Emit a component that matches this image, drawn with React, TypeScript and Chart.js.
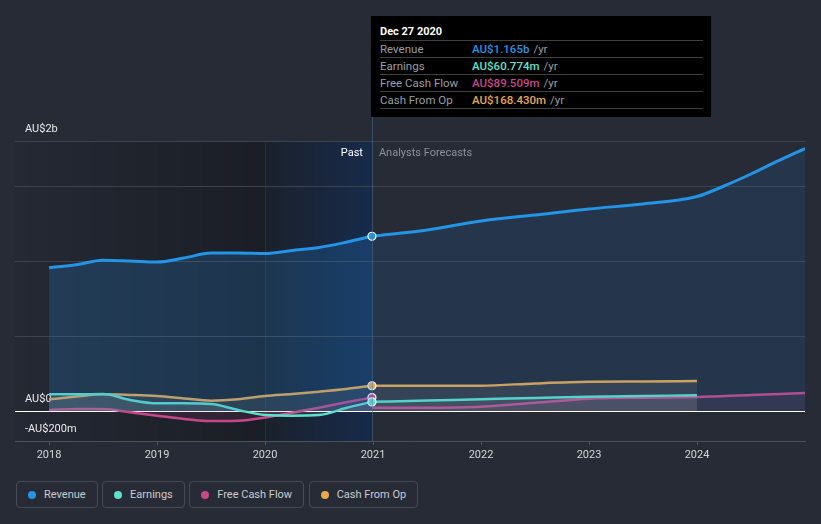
import React, { useEffect, useRef } from 'react';
import { Chart, registerables } from 'chart.js';

Chart.register(...registerables);

// ---------- data (values in AU$ millions, x in decimal years) ----------
const NOW = 2020.99;
const pastYears = [2018, 2018.25, 2018.5, 2018.75, 2019, 2019.25, 2019.5, 2019.75, 2020, 2020.25, 2020.5, 2020.75, 2020.99];
const revenuePast = [955, 975, 1005, 1000, 993, 1020, 1053, 1053, 1050, 1070, 1090, 1125, 1165];
const earningsPast = [111, 111, 113, 73, 51, 51, 47, 7, -27, -31, -27, 20, 60.774];
const fcfPast = [7, 13, 13, -9, -31, -53, -67, -65, -44, -11, 22, 58, 89.509];
const cfoPast = [78, 96, 111, 107, 100, 84, 69, 78, 100, 113, 129, 147, 168.43];

const revenueForecastYears = [2020.99, 2021.5, 2022, 2022.5, 2023, 2023.5, 2024, 2024.25, 2024.5, 2024.75, 2025];
const revenueForecast = [1165, 1207, 1267, 1307, 1347, 1380, 1430, 1500, 1580, 1667, 1750];
const forecastYears = [2020.99, 2021.5, 2022, 2022.5, 2023, 2023.5, 2024];
const earningsForecast = [61, 70, 78, 87, 95, 100, 105];
const cfoForecast = [168, 168, 169, 184, 195, 197, 200];
const fcfForecastYears = [2020.99, 2021.5, 2022, 2022.5, 2023, 2023.5, 2024, 2024.5, 2025];
const fcfForecast = [22, 22, 29, 55, 82, 89, 93, 107, 120];

const xTicks = [2018, 2019, 2020, 2021, 2022, 2023, 2024];
const yTicks = [-200, 0, 500, 1000, 1500, 1800];
const yTickLabels = ['-AU$200m', 'AU$0', '', '', '', 'AU$2b'];

const seriesNames = ['Revenue', 'Earnings', 'Free Cash Flow', 'Cash From Op'];
const tooltipTitle = 'Dec 27 2020';
const tooltipValues = ['AU$1.165b', 'AU$60.774m', 'AU$89.509m', 'AU$168.430m'];

// ---------- styles ----------
const BG = '#262b36';
const COLORS = ['#2394e6', '#5fe0cc', '#c8478a', '#e8a850'];
const FONT = 'Roboto, "Open Sans", sans-serif';

const pts = (xs: number[], ys: number[]) => xs.map((x, i) => ({ x, y: ys[i] }));

function lineDs(label: string, data: { x: number; y: number }[], color: string, fillColor: string, width: number, markLast: boolean) {
  return {
    label,
    data,
    borderColor: color,
    backgroundColor: fillColor,
    borderWidth: width,
    fill: 'origin',
    cubicInterpolationMode: 'monotone' as const,
    pointRadius: (c: any) => (markLast && c.dataIndex === data.length - 1 ? 4 : 0),
    pointHoverRadius: 0,
    pointBackgroundColor: color,
    pointBorderColor: '#ffffff',
    pointBorderWidth: 1.2,
  };
}

const shadePlugin = {
  id: 'shade',
  beforeDraw(chart: any) {
    const { ctx, chartArea, scales } = chart;
    const { left, top, bottom } = chartArea;
    const x20 = scales.x.getPixelForValue(2020);
    const xNow = scales.x.getPixelForValue(NOW);
    ctx.save();
    let g = ctx.createLinearGradient(left, 0, x20, 0);
    g.addColorStop(0, 'rgba(0,0,0,0.03)');
    g.addColorStop(1, 'rgba(0,0,0,0.3)');
    ctx.fillStyle = g;
    ctx.fillRect(left, top, x20 - left, bottom - top);
    g = ctx.createLinearGradient(x20, 0, xNow, 0);
    g.addColorStop(0, '#1b212c');
    g.addColorStop(1, '#162b4b');
    ctx.fillStyle = g;
    ctx.fillRect(x20, top, xNow - x20, bottom - top);
    ctx.strokeStyle = 'rgba(70,100,140,0.18)';
    ctx.lineWidth = 1;
    ctx.beginPath();
    ctx.moveTo(Math.round(x20) + 0.5, top);
    ctx.lineTo(Math.round(x20) + 0.5, bottom);
    ctx.stroke();
    ctx.restore();
  },
  afterDatasetsDraw(chart: any) {
    const { ctx, chartArea, scales } = chart;
    const xNow = scales.x.getPixelForValue(NOW);
    ctx.save();
    ctx.strokeStyle = 'rgba(80,115,160,0.5)';
    ctx.lineWidth = 1;
    ctx.beginPath();
    ctx.moveTo(Math.round(xNow) + 0.5, 117);
    ctx.lineTo(Math.round(xNow) + 0.5, chartArea.bottom);
    ctx.stroke();
    ctx.font = `11px ${FONT}`;
    ctx.textBaseline = 'middle';
    ctx.textAlign = 'right';
    ctx.fillStyle = '#ffffff';
    ctx.fillText('Past', xNow - 9, chartArea.top + 12);
    ctx.textAlign = 'left';
    ctx.fillStyle = '#8c919b';
    ctx.fillText('Analysts Forecasts', xNow + 7, chartArea.top + 12);
    ctx.restore();
  },
};

export default function App() {
  const ref = useRef<HTMLCanvasElement | null>(null);

  useEffect(() => {
    if (!ref.current) return;
    const chart = new Chart(ref.current, {
      type: 'line',
      data: {
        datasets: [
          lineDs('Revenue', pts(pastYears, revenuePast), COLORS[0], 'rgba(35,130,215,0.22)', 3, true),
          lineDs('Earnings', pts(pastYears, earningsPast), COLORS[1], 'rgba(170,190,170,0.14)', 2.5, true),
          lineDs('Free Cash Flow', pts(pastYears, fcfPast), COLORS[2], 'rgba(200,70,140,0.12)', 2.5, true),
          lineDs('Cash From Op', pts(pastYears, cfoPast), COLORS[3], 'rgba(190,180,160,0.12)', 2.5, true),
          lineDs('Revenue forecast', pts(revenueForecastYears, revenueForecast), COLORS[0], 'rgba(35,130,215,0.14)', 3, false),
          lineDs('Earnings forecast', pts(forecastYears, earningsForecast), COLORS[1], 'rgba(170,180,170,0.12)', 2.5, false),
          lineDs('FCF forecast', pts(fcfForecastYears, fcfForecast), COLORS[2], 'rgba(200,70,140,0.1)', 2.5, false),
          lineDs('CFO forecast', pts(forecastYears, cfoForecast), COLORS[3], 'rgba(190,180,160,0.12)', 2.5, false),
        ] as any,
      },
      options: {
        animation: false,
        responsive: false,
        maintainAspectRatio: false,
        layout: { padding: { left: 15, right: 16, top: 141, bottom: 0 } },
        plugins: { legend: { display: false }, tooltip: { enabled: false } },
        scales: {
          x: {
            type: 'linear',
            min: 2017.685,
            max: 2025,
            afterBuildTicks: (s: any) => {
              s.ticks = xTicks.map((v) => ({ value: v }));
            },
            afterFit: (s: any) => {
              s.height = 29;
            },
            grid: { drawOnChartArea: false, drawTicks: true, tickLength: 4, color: '#4b515d' },
            border: { display: true, color: '#4b515d' },
            ticks: {
              color: '#d4d7dc',
              font: { family: FONT, size: 11 },
              padding: 4,
              maxRotation: 0,
              autoSkip: false,
              callback: (v: any) => String(v),
            },
          },
          y: {
            min: -200,
            max: 1800,
            afterBuildTicks: (s: any) => {
              s.ticks = yTicks.map((v) => ({ value: v }));
            },
            afterFit: (s: any) => {
              s.width = 0;
            },
            grid: {
              drawTicks: false,
              color: (c: any) => (c.tick && c.tick.value === 0 ? '#ffffff' : '#3d434e'),
            },
            border: { display: false },
            ticks: {
              mirror: true,
              padding: 10,
              labelOffset: -12,
              color: '#e8eaed',
              font: { family: FONT, size: 11 },
              autoSkip: false,
              callback: (v: any) => {
                const i = yTicks.indexOf(Number(v));
                return i >= 0 ? yTickLabels[i] : '';
              },
            },
          },
        },
      } as any,
      plugins: [shadePlugin],
    });
    return () => chart.destroy();
  }, []);

  return (
    <div style={{ position: 'fixed', left: 0, top: 0, width: 821, height: 524, background: BG, fontFamily: FONT, overflow: 'hidden' }}>
      <canvas ref={ref} width={821} height={470} style={{ position: 'absolute', left: 0, top: 0, width: 821, height: 470 }} />
      <div
        style={{
          position: 'absolute',
          left: 371,
          top: 16,
          width: 340,
          height: 101,
          background: '#000000',
          boxSizing: 'border-box',
          padding: '7px 8px 0 9px',
        }}
      >
        <div style={{ color: '#ffffff', fontWeight: 700, fontSize: 11, height: 17, lineHeight: '17px', borderBottom: '1px solid #3f3f3f' }}>
          {tooltipTitle}
        </div>
        {seriesNames.map((n, i) => (
          <div key={n} style={{ display: 'flex', height: 16, lineHeight: '16px', fontSize: 11.5, borderBottom: '1px solid #3f3f3f' }}>
            <span style={{ width: 92, color: '#9a9ea5' }}>{n}</span>
            <span style={{ color: COLORS[i], fontWeight: 500 }}>{tooltipValues[i]}</span>
            <span style={{ color: '#9a9ea5', marginLeft: 4 }}>/yr</span>
          </div>
        ))}
      </div>
      <div style={{ position: 'absolute', left: 16, top: 481, display: 'flex', gap: 4.5 }}>
        {seriesNames.map((n, i) => (
          <div
            key={n}
            style={{
              display: 'flex',
              alignItems: 'center',
              gap: 8,
              height: 27,
              boxSizing: 'border-box',
              padding: '0 11px',
              border: '1px solid #454c58',
              borderRadius: 4,
              color: '#c9ccd1',
              fontSize: 11,
            }}
          >
            <span style={{ width: 8, height: 8, borderRadius: 4, background: COLORS[i], display: 'inline-block' }} />
            <span>{n}</span>
          </div>
        ))}
      </div>
    </div>
  );
}
